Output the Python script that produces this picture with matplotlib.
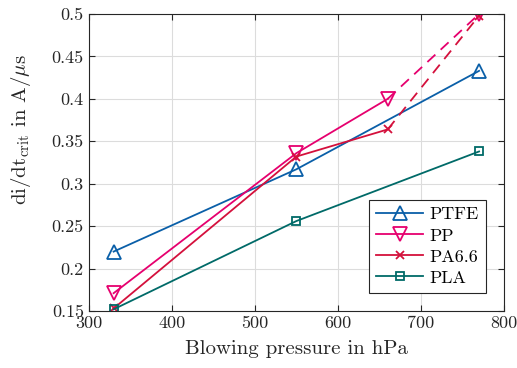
import matplotlib
matplotlib.use("Agg")
import matplotlib.pyplot as plt
import numpy as np

plt.rcParams['font.family'] = ['cmr10', 'DejaVu Serif']
plt.rcParams['mathtext.fontset'] = 'cm'
plt.rcParams['axes.formatter.use_mathtext'] = True

# data
ptfe_x = [330, 550, 770]
ptfe_y = [0.220, 0.317, 0.433]
pp_x = [330, 550, 660]
pp_y = [0.171, 0.336, 0.400]
pp_ext_x = [660, 770]
pp_ext_y = [0.400, 0.500]
pa_x = [330, 550, 660]
pa_y = [0.153, 0.332, 0.364]
pa_ext_x = [660, 770]
pa_ext_y = [0.364, 0.498]
pla_x = [330, 550, 770]
pla_y = [0.152, 0.256, 0.338]

x_ticks = [300, 400, 500, 600, 700, 800]
y_ticks = [0.15, 0.2, 0.25, 0.3, 0.35, 0.4, 0.45, 0.5]

c_ptfe = '#0a5fa8'
c_pp = '#e6006e'
c_pa = '#d4103c'
c_pla = '#006a68'

fig = plt.figure(figsize=(5.17, 3.68), dpi=100)
ax = fig.add_axes([88.7/517, 1 - 311/368, (504 - 88.7)/517, (311 - 14)/368])

lw = 1.3
ax.plot(ptfe_x, ptfe_y, color=c_ptfe, lw=lw, marker='^', ms=10, mfc='none', mew=1.3, label='PTFE')
ax.plot(pp_x, pp_y, color=c_pp, lw=lw, marker='v', ms=10, mfc='none', mew=1.3, label='PP')
ax.plot(pa_x, pa_y, color=c_pa, lw=lw, marker='x', ms=6, mew=1.3, label='PA6.6')
ax.plot(pla_x, pla_y, color=c_pla, lw=lw, marker='s', ms=6, mfc='none', mew=1.3, label='PLA')
ax.plot(pp_ext_x, pp_ext_y, color=c_pp, lw=lw, ls=(0, (6, 4)), marker='v', ms=10, mfc='none', mew=1.3, markevery=[1])
ax.plot(pa_ext_x, pa_ext_y, color=c_pa, lw=lw, ls=(0, (6, 4)), marker='x', ms=6, mew=1.3, markevery=[1])

ax.set_xlim(300, 800)
ax.set_ylim(0.15, 0.5)
ax.set_xticks(x_ticks)
ax.set_yticks(y_ticks)
ax.set_xticklabels([str(t) for t in x_ticks])
ax.set_yticklabels(['%g' % t for t in y_ticks])
ax.grid(True, color='#dcdcdc', lw=0.8)
ax.set_axisbelow(True)
ax.tick_params(direction='in', top=True, right=True, labelsize=13, colors='#262626', length=4)
for s in ax.spines.values():
    s.set_color('#262626')
    s.set_linewidth(0.8)

ax.set_xlabel('Blowing pressure in hPa', fontsize=15, color='#262626', labelpad=6)
ax.set_ylabel(r'di/dt$_\mathrm{crit}$ in A/$\mu$s', fontsize=15, color='#262626')
ax.yaxis.set_label_coords(-0.134, 0.61)

leg = ax.legend(loc='lower right', fontsize=13, fancybox=False, framealpha=1,
                edgecolor='#262626', handlelength=2.6, handletextpad=0.35,
                borderpad=0.4, labelspacing=0.3, borderaxespad=0,
                bbox_to_anchor=(0.957, 0.061))
leg.get_frame().set_linewidth(0.8)

fig.savefig('out.png', dpi=100)
